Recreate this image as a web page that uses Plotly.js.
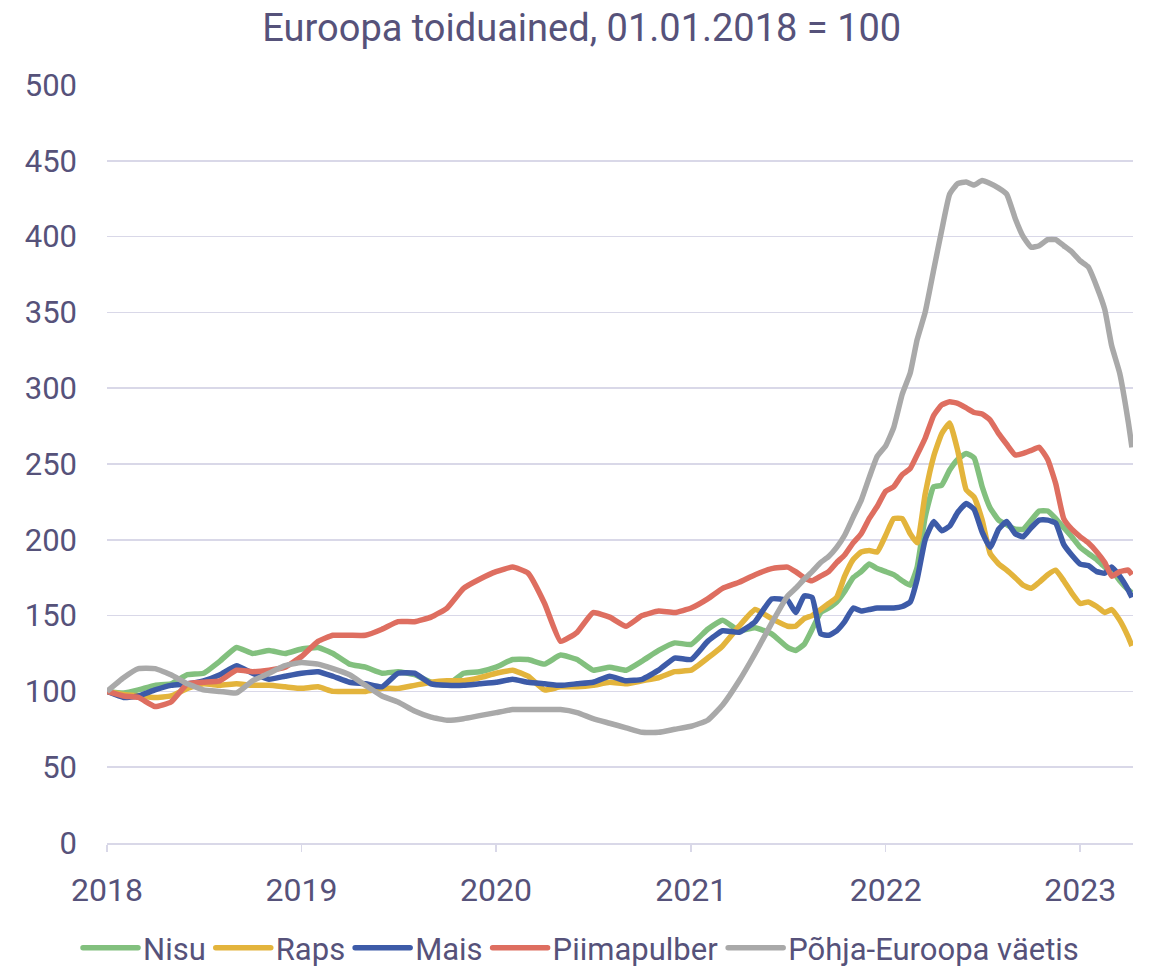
<!DOCTYPE html>
<html>
<head>
<meta charset="utf-8">
<script src="https://cdn.plot.ly/plotly-3.0.1.min.js"></script>
<style>
  html, body { margin: 0; padding: 0; background: #ffffff; }
  #chart { width: 1152px; height: 969px; }
</style>
</head>
<body>
<div id="chart"></div>
<script>
// Sampling dates: monthly until mid-2021, then twice a month, last point = end of series
const dates = [
  "2018-01-01","2018-02-01","2018-03-01","2018-04-01","2018-05-01","2018-06-01","2018-07-01","2018-08-01","2018-09-01","2018-10-01","2018-11-01","2018-12-01",
  "2019-01-01","2019-02-01","2019-03-01","2019-04-01","2019-05-01","2019-06-01","2019-07-01","2019-08-01","2019-09-01","2019-10-01","2019-11-01","2019-12-01",
  "2020-01-01","2020-02-01","2020-03-01","2020-04-01","2020-05-01","2020-06-01","2020-07-01","2020-08-01","2020-09-01","2020-10-01","2020-11-01","2020-12-01",
  "2021-01-01","2021-02-01","2021-03-01","2021-04-01","2021-05-01","2021-06-01",
  "2021-07-01","2021-07-16","2021-08-01","2021-08-16","2021-09-01","2021-09-16","2021-10-01","2021-10-16","2021-11-01","2021-11-16","2021-12-01","2021-12-16",
  "2022-01-01","2022-01-16","2022-02-01","2022-02-16","2022-03-01","2022-03-16","2022-04-01","2022-04-16","2022-05-01","2022-05-16","2022-06-01","2022-06-16",
  "2022-07-01","2022-07-16","2022-08-01","2022-08-16","2022-09-01","2022-09-16","2022-10-01","2022-10-16","2022-11-01","2022-11-16","2022-12-01","2022-12-16",
  "2023-01-01","2023-01-16","2023-02-01","2023-02-16","2023-03-01","2023-03-16","2023-04-01","2023-04-08"
];

const nisu = [
  100, 99, 101, 104, 105, 111, 112, 120, 129, 125, 127, 125,
  128, 129, 125, 118, 116, 112, 113, 111, 106, 104, 112, 113,
  116, 121, 121, 118, 124, 121, 114, 116, 114, 120, 127, 132,
  131, 141, 147, 140, 142, 138,
  129, 127, 131, 141, 152, 155, 159, 166, 175, 179, 184, 181,
  179, 177, 173, 170, 182, 215, 235, 236, 246, 253, 257, 254,
  235, 221, 213, 210, 207, 207, 213, 219, 219, 214, 208, 202,
  195, 191, 187, 182, 180, 173, 167, 165
];

const raps = [
  100, 98, 97, 96, 97, 102, 105, 104, 105, 104, 104, 103,
  102, 103, 100, 100, 100, 102, 102, 104, 106, 107, 107, 109,
  112, 114, 110, 101, 103, 103, 104, 106, 105, 107, 109, 113,
  114, 122, 130, 143, 154, 148,
  143, 143, 148, 150, 154, 158, 162, 176, 187, 192, 193, 192,
  203, 214, 214, 204, 198, 230, 255, 270, 277, 259, 233, 228,
  213, 191, 184, 180, 175, 170, 168, 172, 177, 180, 173, 165,
  158, 159, 156, 152, 154, 147, 136, 130
];

const mais = [
  100, 96, 97, 101, 104, 105, 107, 111, 117, 112, 108, 110,
  112, 113, 110, 106, 105, 103, 112, 112, 105, 104, 104, 105,
  106, 108, 106, 105, 104, 105, 106, 110, 107, 108, 114, 122,
  121, 133, 140, 139, 146, 161,
  160, 152, 163, 162, 138, 137, 140, 146, 155, 153, 154, 155,
  155, 155, 156, 159, 174, 200, 212, 206, 209, 218, 224, 220,
  205, 195, 207, 212, 204, 202, 208, 213, 213, 211, 197, 190,
  184, 183, 179, 178, 182, 176, 167, 162
];

const piimapulber = [
  100, 97, 96, 90, 93, 105, 106, 107, 114, 113, 114, 116,
  123, 133, 137, 137, 137, 141, 146, 146, 149, 155, 168, 174,
  179, 182, 178, 158, 133, 139, 152, 149, 143, 150, 153, 152,
  155, 161, 168, 172, 177, 181,
  182, 179, 175, 173, 176, 179, 185, 190, 198, 204, 214, 222,
  232, 235, 243, 247, 256, 267, 282, 289, 291, 290, 287, 284,
  283, 279, 270, 263, 256, 257, 259, 261, 253, 237, 214, 207,
  202, 198, 192, 185, 176, 179, 180, 177
];

const vaetis = [
  100, 109, 115, 115, 111, 105, 101, 100, 99, 107, 112, 117,
  119, 118, 115, 111, 104, 97, 93, 87, 83, 81, 82, 84,
  86, 88, 88, 88, 88, 86, 82, 79, 76, 73, 73, 75,
  77, 81, 91, 107, 125, 145,
  163, 168, 174, 179, 185, 189, 195, 203, 215, 226, 241, 255,
  262, 274, 296, 310, 332, 350, 378, 404, 428, 435, 436, 434,
  437, 435, 432, 428, 412, 400, 393, 394, 398, 398, 394, 390,
  384, 380, 367, 352, 328, 310, 278, 261
];

const seriesNames = ["Nisu", "Raps", "Mais", "Piimapulber", "Põhja-Euroopa väetis"];
const seriesColors = ["#82c07e", "#e3b43c", "#3d5ba8", "#de6e60", "#a9a9a9"];
const seriesValues = [nisu, raps, mais, piimapulber, vaetis];

const textColor = "#56527a";
const gridColor = "#d9d8e8";
const fontFamily = "Roboto, 'Noto Sans', sans-serif";

const traces = seriesNames.map((name, i) => ({
  type: "scatter",
  mode: "lines",
  name: name,
  x: dates,
  y: seriesValues[i],
  line: { color: seriesColors[i], width: 5.5, shape: "spline", smoothing: 0.4 },
  hoverinfo: "x+y+name"
}));

const layout = {
  width: 1152,
  height: 969,
  paper_bgcolor: "#ffffff",
  plot_bgcolor: "#ffffff",
  margin: { l: 107, r: 19, t: 85, b: 126, autoexpand: false },
  font: { family: fontFamily, color: textColor, size: 31 },
  title: {
    text: "Euroopa toiduained, 01.01.2018 = 100",
    font: { family: fontFamily, color: textColor, size: 38 },
    x: 0.505, xref: "container", xanchor: "center",
    y: 0.971, yref: "container", yanchor: "middle"
  },
  xaxis: {
    type: "date",
    range: ["2018-01-01", "2023-04-10"],
    tickvals: ["2018-01-01","2019-01-01","2020-01-01","2021-01-01","2022-01-01","2023-01-01"],
    ticktext: ["2018","2019","2020","2021","2022","2023"],
    showgrid: false,
    zeroline: false,
    showline: true,
    linecolor: gridColor,
    linewidth: 2,
    ticks: "outside",
    ticklen: 7,
    tickwidth: 1.5,
    tickcolor: gridColor,
    tickfont: { family: fontFamily, color: textColor, size: 32 },
    ticklabelstandoff: 11
  },
  yaxis: {
    range: [0, 500],
    tickvals: [0, 50, 100, 150, 200, 250, 300, 350, 400, 450, 500],
    showgrid: true,
    gridcolor: gridColor,
    gridwidth: 1.5,
    zeroline: false,
    showline: false,
    ticks: "",
    tickfont: { family: fontFamily, color: textColor, size: 31 },
    ticklabelstandoff: 29
  },
  showlegend: true,
  legend: {
    orientation: "h",
    x: 0.462, xanchor: "center",
    y: -0.1385, yanchor: "middle",
    font: { family: fontFamily, color: textColor, size: 31 },
    traceorder: "normal",
    itemwidth: 55,
    tracegroupgap: 0
  }
};

Plotly.newPlot("chart", traces, layout, { displayModeBar: false, staticPlot: true }).then(gd => {
  // lengthen the legend line samples to fill the item width
  gd.querySelectorAll(".legend .legendlines path").forEach(p => {
    p.setAttribute("d", "M5,0h55");
    p.style.strokeLinecap = "round";
  });
});
</script>
</body>
</html>
